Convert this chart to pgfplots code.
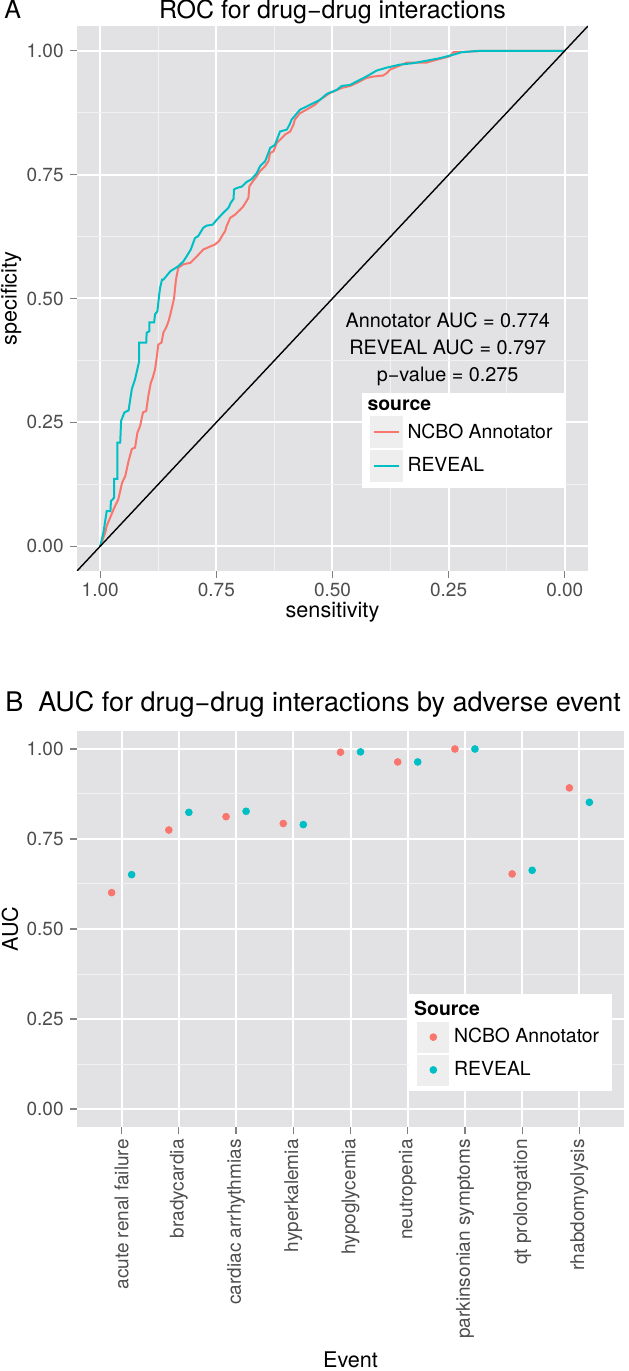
\documentclass[border=0pt]{standalone}
\usepackage{fontspec}
\setmainfont{TeX Gyre Heros}
\usepackage{pgfplots}
\pgfplotsset{compat=1.18}
\definecolor{panelbg}{RGB}{226,226,228}
\definecolor{minorgrid}{RGB}{242,242,242}
\definecolor{ncbo}{HTML}{F8766D}
\definecolor{reveal}{HTML}{00BFC4}
\definecolor{legkey}{RGB}{238,238,238}
\definecolor{ticklab}{RGB}{77,77,77}
\newcommand\ftick{\fontsize{9.5pt}{11pt}\selectfont}
\newcommand\fleg{\fontsize{9.7pt}{11pt}\selectfont}
\newcommand\flab{\fontsize{10.8pt}{12pt}\selectfont}
\pgfplotsset{ggbase/.style={
  scale only axis,
  axis background/.style={fill=panelbg},
  axis line style={draw=none},
  tick align=outside,
  xtick pos=left, ytick pos=left,
  major tick length=3.5pt, minor tick length=0pt,
  tick style={black!50, line width=0.6pt},
  grid=both,
  major grid style={white, line width=1pt},
  minor grid style={minorgrid, line width=0.5pt},
  ticklabel style={font=\ftick, text=ticklab, inner sep=0pt},
  xticklabel shift=2.5pt, yticklabel shift=3pt,
  label style={font=\flab, inner sep=0pt},
  legend style={draw=none, fill=white, font=\fleg, inner xsep=4pt, inner ysep=3pt,
    row sep=1pt, cells={anchor=west}, nodes={inner xsep=2.5pt, inner ysep=0.5pt}},
}}
\begin{document}
\begin{tikzpicture}
\useasboundingbox (0,0) rectangle (314pt,685.5pt);
\node[anchor=base west, font=\fontsize{12.5pt}{14pt}\selectfont, inner sep=0pt] at (2pt,676pt) {A};
\node[anchor=base, font=\fontsize{12.5pt}{14pt}\selectfont, inner sep=0pt] at (166.25pt,676pt) {ROC for drug−drug interactions};
\node[anchor=base west, font=\fontsize{13.5pt}{16pt}\selectfont, inner sep=0pt] at (2.5pt,329.5pt) {B};
\node[anchor=base west, font=\fontsize{13.5pt}{16pt}\selectfont, inner sep=0pt] at (19pt,329.5pt) {AUC for drug−drug interactions by adverse event};
% ---------------- Panel A ----------------
\begin{axis}[ggbase,
  at={(38.5pt,400pt)}, anchor=south west,
  width=255.5pt, height=272.5pt,
  x dir=reverse,
  xmin=-0.05, xmax=1.05, ymin=-0.05, ymax=1.05,
  xtick={0,0.25,0.5,0.75,1}, xticklabels={0.00,0.25,0.50,0.75,1.00},
  ytick={0,0.25,0.5,0.75,1}, yticklabels={0.00,0.25,0.50,0.75,1.00},
  minor xtick={0.125,0.375,0.625,0.875},
  minor ytick={0.125,0.375,0.625,0.875},
  xlabel={sensitivity}, ylabel={specificity},
  xlabel style={at={(axis description cs:0.5,-0.0755)}, anchor=center},
  ylabel style={at={(axis description cs:-0.129,0.5)}, anchor=center},
  legend image code/.code={\fill[legkey] (0pt,-7.5pt) rectangle (15.5pt,7.5pt);
    \draw[#1] (1.5pt,0pt) -- (14pt,0pt);},
  legend style={at={(0.556,0.328)}, anchor=north west},
]
\addlegendimage{empty legend}
\addlegendentry{\hspace*{-20pt}\textbf{source}\rule[-4.5pt]{0pt}{4.5pt}}
\addplot[ncbo, line width=1pt] table {
x y
1.000 0.000
0.989 0.028
0.986 0.041
0.971 0.075
0.961 0.095
0.953 0.128
0.946 0.142
0.939 0.172
0.932 0.196
0.925 0.199
0.920 0.229
0.914 0.243
0.908 0.270
0.901 0.273
0.896 0.306
0.891 0.330
0.887 0.340
0.882 0.357
0.878 0.384
0.875 0.407
0.868 0.411
0.864 0.431
0.857 0.444
0.853 0.454
0.849 0.468
0.844 0.488
0.841 0.501
0.837 0.538
0.832 0.562
0.821 0.569
0.806 0.572
0.792 0.585
0.778 0.599
0.763 0.605
0.753 0.609
0.744 0.616
0.738 0.626
0.731 0.636
0.728 0.646
0.720 0.663
0.710 0.669
0.699 0.679
0.692 0.686
0.681 0.703
0.679 0.726
0.674 0.733
0.663 0.747
0.656 0.757
0.645 0.767
0.638 0.777
0.634 0.794
0.627 0.797
0.620 0.814
0.609 0.824
0.602 0.831
0.591 0.837
0.584 0.851
0.581 0.861
0.570 0.874
0.556 0.881
0.538 0.891
0.527 0.901
0.505 0.915
0.480 0.925
0.462 0.929
0.448 0.935
0.427 0.945
0.412 0.948
0.391 0.950
0.383 0.955
0.376 0.962
0.340 0.976
0.298 0.976
0.283 0.980
0.247 0.989
0.240 0.997
0.190 0.999
0.179 1.000
0.000 1.000
};
\addlegendentry{NCBO Annotator}
\addplot[reveal, line width=1pt] table {
x y
1.000 0.000
0.993 0.028
0.986 0.071
0.978 0.071
0.977 0.091
0.970 0.098
0.970 0.136
0.963 0.136
0.963 0.209
0.957 0.209
0.955 0.253
0.948 0.270
0.939 0.274
0.932 0.317
0.925 0.337
0.916 0.374
0.916 0.411
0.901 0.411
0.900 0.431
0.894 0.434
0.894 0.452
0.884 0.452
0.882 0.468
0.877 0.474
0.873 0.508
0.871 0.522
0.867 0.538
0.864 0.538
0.849 0.555
0.832 0.565
0.821 0.575
0.814 0.585
0.805 0.599
0.796 0.622
0.789 0.626
0.778 0.643
0.771 0.647
0.758 0.649
0.749 0.659
0.735 0.673
0.724 0.683
0.719 0.693
0.713 0.701
0.712 0.720
0.706 0.723
0.695 0.726
0.685 0.735
0.674 0.741
0.663 0.753
0.656 0.767
0.645 0.777
0.638 0.794
0.634 0.804
0.624 0.810
0.617 0.827
0.613 0.837
0.598 0.841
0.591 0.854
0.588 0.861
0.570 0.881
0.548 0.891
0.527 0.901
0.512 0.913
0.491 0.921
0.480 0.929
0.462 0.931
0.448 0.938
0.427 0.948
0.405 0.960
0.383 0.966
0.355 0.972
0.326 0.975
0.297 0.980
0.269 0.985
0.240 0.992
0.222 0.997
0.197 0.999
0.179 1.000
0.000 1.000
};
\addlegendentry{REVEAL}
\addplot[black, line width=0.7pt, forget plot] coordinates {(1.05,-0.05) (-0.05,1.05)};
\node[align=center, font={\fontsize{9.9pt}{13.5pt}\selectfont}] at (axis cs:0.252,0.397)
  {Annotator AUC = 0.774\\REVEAL AUC = 0.797\\p−value = 0.275};
\end{axis}
% ---------------- Panel B ----------------
\begin{axis}[ggbase,
  at={(38.5pt,122pt)}, anchor=south west,
  width=273.5pt, height=198pt,
  xmin=-0.78, xmax=8.78, ymin=-0.05, ymax=1.05,
  xtick={0,1,2,3,4,5,6,7,8},
  xticklabels={acute renal failure, bradycardia, cardiac arrhythmias, hyperkalemia, hypoglycemia, neutropenia, parkinsonian symptoms, qt prolongation, rhabdomyolysis},
  xticklabel style={rotate=90, anchor=east},
  ytick={0,0.25,0.5,0.75,1}, yticklabels={0.00,0.25,0.50,0.75,1.00},
  minor ytick={0.125,0.375,0.625,0.875},
  xlabel={Event}, ylabel={AUC},
  xlabel style={at={(axis description cs:0.5,-0.588)}, anchor=center},
  ylabel style={at={(axis description cs:-0.1225,0.5)}, anchor=center},
  legend image code/.code={\fill[legkey] (0pt,-7.5pt) rectangle (15.5pt,7.5pt);
    \draw[mark repeat=2, mark phase=2, #1] plot coordinates {(0pt,0pt) (7.75pt,0pt) (15.5pt,0pt)};},
  legend style={at={(0.607,0.336)}, anchor=north west},
]
\addlegendimage{empty legend}
\addlegendentry{\hspace*{-20pt}\textbf{Source}\rule[-4.5pt]{0pt}{4.5pt}}
\addplot[only marks, mark=*, mark size=1.7pt, ncbo, mark options={draw=none, fill=ncbo}] coordinates {
(-0.175,0.601) (0.825,0.775) (1.825,0.812) (2.825,0.793) (3.825,0.991)
(4.825,0.964) (5.825,1.000) (6.825,0.653) (7.825,0.892)};
\addlegendentry{NCBO Annotator}
\addplot[only marks, mark=*, mark size=1.7pt, reveal, mark options={draw=none, fill=reveal}] coordinates {
(0.175,0.651) (1.175,0.824) (2.175,0.827) (3.175,0.790) (4.175,0.992)
(5.175,0.964) (6.175,1.000) (7.175,0.663) (8.175,0.852)};
\addlegendentry{REVEAL}
\end{axis}
\end{tikzpicture}
\end{document}
